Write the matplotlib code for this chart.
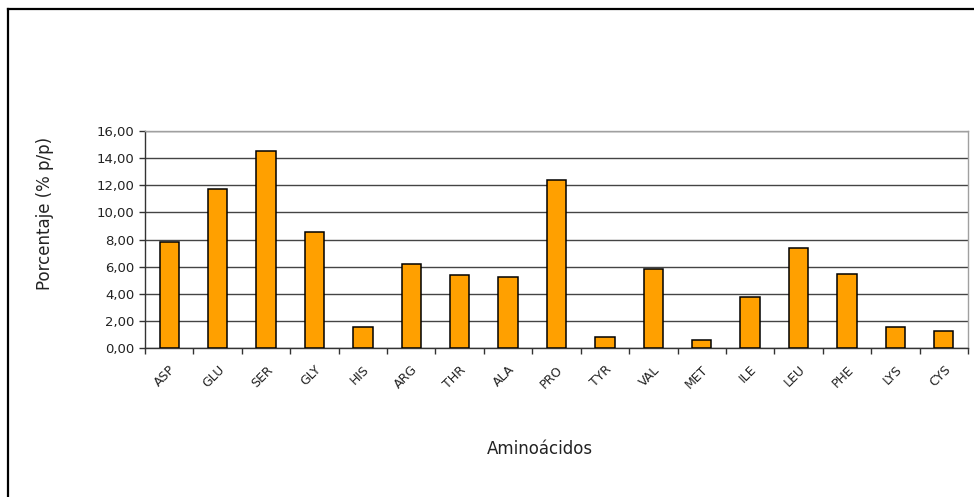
import matplotlib
matplotlib.use("Agg")
import matplotlib.pyplot as plt
from matplotlib.ticker import FuncFormatter, FixedLocator
import numpy as np

aminoacidos = ["ASP", "GLU", "SER", "GLY", "HIS", "ARG", "THR", "ALA", "PRO",
               "TYR", "VAL", "MET", "ILE", "LEU", "PHE", "LYS", "CYS"]
porcentaje = [7.83, 11.72, 14.50, 8.52, 1.58, 6.16, 5.37, 5.27, 12.41,
              0.79, 5.86, 0.59, 3.77, 7.36, 5.47, 1.58, 1.28]
y_ticks = [0, 2, 4, 6, 8, 10, 12, 14, 16]

plt.rcParams['font.family'] = ['DejaVu Sans']

W, H = 974, 497
fig = plt.figure(figsize=(W / 100, H / 100), dpi=100)

# outer chart frame (top and left edges)
fig.add_artist(plt.Line2D([8 / W, 1.0], [1 - 9 / H, 1 - 9 / H], color="black", lw=1.6,
                          transform=fig.transFigure))
fig.add_artist(plt.Line2D([8 / W, 8 / W], [0, 1 - 9 / H], color="black", lw=1.6,
                          transform=fig.transFigure))

left, right, top, bottom = 145, 968, 131, 348
ax = fig.add_axes([left / W, 1 - bottom / H, (right - left) / W, (bottom - top) / H])

x = np.arange(len(aminoacidos))
ax.bar(x, porcentaje, width=0.4, color="#FFA000", edgecolor="black", linewidth=1.1, zorder=3)

ax.set_xlim(-0.5, len(aminoacidos) - 0.5)
ax.set_ylim(0, 16)

ax.yaxis.set_major_locator(FixedLocator(y_ticks))
ax.yaxis.set_major_formatter(FuncFormatter(lambda v, p: f"{v:.2f}".replace(".", ",")))
ax.yaxis.grid(True, color="#444444", linewidth=1.0, zorder=0)
ax.set_axisbelow(True)

# category labels centred under bars, tick marks between categories
ax.set_xticks(x)
ax.set_xticklabels(aminoacidos, rotation=45, ha="right", rotation_mode="anchor", fontsize=9,
                   color="#222222")
ax.tick_params(axis="x", which="major", length=0, pad=11)
ax.set_xticks(np.arange(-0.5, len(aminoacidos) + 0.5, 1), minor=True)
ax.tick_params(axis="x", which="minor", length=4, width=1, direction="out", color="#333333")
ax.tick_params(axis="y", length=4, width=1, direction="out", color="#333333", labelsize=9.5,
               labelcolor="#222222")

for s in ["left", "bottom"]:
    ax.spines[s].set_color("#333333")
    ax.spines[s].set_linewidth(1.0)
for s in ["top", "right"]:
    ax.spines[s].set_color("#A0A0A0")
    ax.spines[s].set_linewidth(1.0)

fig.text(45 / W, 1 - 213 / H, "Porcentaje (% p/p)", ha="center", va="center", rotation=90,
         fontsize=12, color="#222222")
fig.text(540 / W, 1 - 449 / H, "Aminoácidos", ha="center", va="center", fontsize=12,
         color="#222222")

fig.savefig("out.png", dpi=100, facecolor="white")
